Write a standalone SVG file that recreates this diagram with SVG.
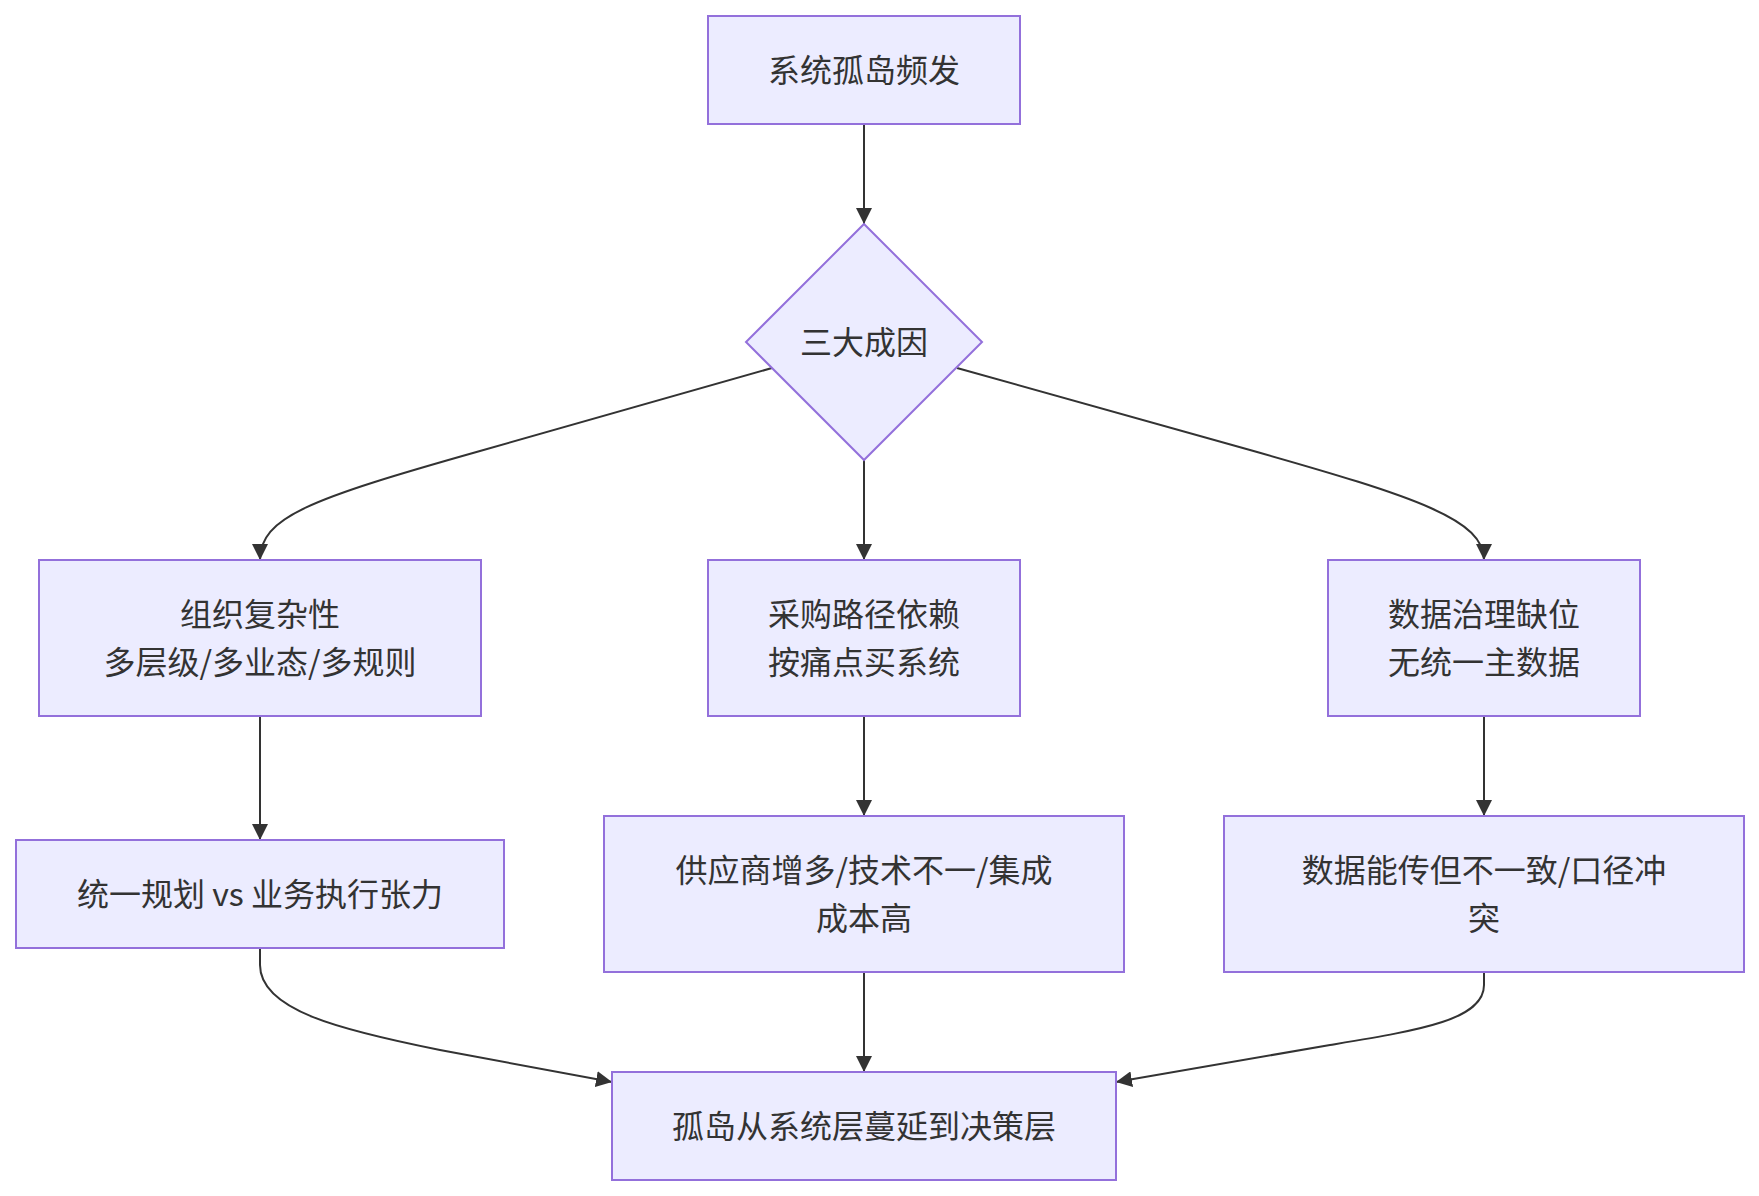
<svg xmlns="http://www.w3.org/2000/svg" width="1759" height="1196" viewBox="0 0 1759 1196">
<defs>
<style>
.node rect, .node polygon { fill: #ECECFF; stroke: #9370DB; stroke-width: 2; }
.node text { font-family: "Noto Sans CJK SC", "Liberation Sans", sans-serif; font-size: 32px; fill: #333333; text-anchor: middle; dominant-baseline: central; }
.edges path { fill: none; stroke: #333333; stroke-width: 2; marker-end: url(#arrow); }
</style>
<marker id="arrow" viewBox="0 0 10 10" refX="10" refY="5" markerWidth="16" markerHeight="16" markerUnits="userSpaceOnUse" orient="auto">
<path d="M0,0 L10,5 L0,10 z" fill="#333333"/>
</marker>
</defs>
<rect width="1759" height="1196" fill="#ffffff"/>
<g class="edges">
<path d="M864,124 L864,224"/>
<path d="M772,368 L480,451 C310,499 260,517 260,560"/>
<path d="M864,460 L864,560"/>
<path d="M957,368 L1250,450 C1420,498 1484,520 1484,560"/>
<path d="M260,716 L260,840"/>
<path d="M864,716 L864,816"/>
<path d="M1484,716 L1484,816"/>
<path d="M260,948 L260,965 C260,1010 340,1030 440,1050 L612,1082"/>
<path d="M864,972 L864,1072"/>
<path d="M1484,972 L1484,985 C1484,1020 1420,1030 1330,1045 L1116,1082"/>
</g>
<g id="A" class="node"><rect x="708" y="16" width="312" height="108"/><text x="864" y="68">系统孤岛频发</text></g>
<g id="B" class="node"><polygon points="864,224 982,342 864,460 746,342"/><text x="864" y="340">三大成因</text></g>
<g id="C1" class="node"><rect x="39" y="560" width="442" height="156"/><text x="260" y="612">组织复杂性</text><text x="260" y="660">多层级/多业态/多规则</text></g>
<g id="C2" class="node"><rect x="708" y="560" width="312" height="156"/><text x="864" y="612">采购路径依赖</text><text x="864" y="660">按痛点买系统</text></g>
<g id="C3" class="node"><rect x="1328" y="560" width="312" height="156"/><text x="1484" y="612">数据治理缺位</text><text x="1484" y="660">无统一主数据</text></g>
<g id="D1" class="node"><rect x="16" y="840" width="488" height="108"/><text x="260" y="892">统一规划 vs 业务执行张力</text></g>
<g id="D2" class="node"><rect x="604" y="816" width="520" height="156"/><text x="864" y="868">供应商增多/技术不一/集成</text><text x="864" y="916">成本高</text></g>
<g id="D3" class="node"><rect x="1224" y="816" width="520" height="156"/><text x="1484" y="868">数据能传但不一致/口径冲</text><text x="1484" y="916">突</text></g>
<g id="E" class="node"><rect x="612" y="1072" width="504" height="108"/><text x="864" y="1124">孤岛从系统层蔓延到决策层</text></g>
</svg>
